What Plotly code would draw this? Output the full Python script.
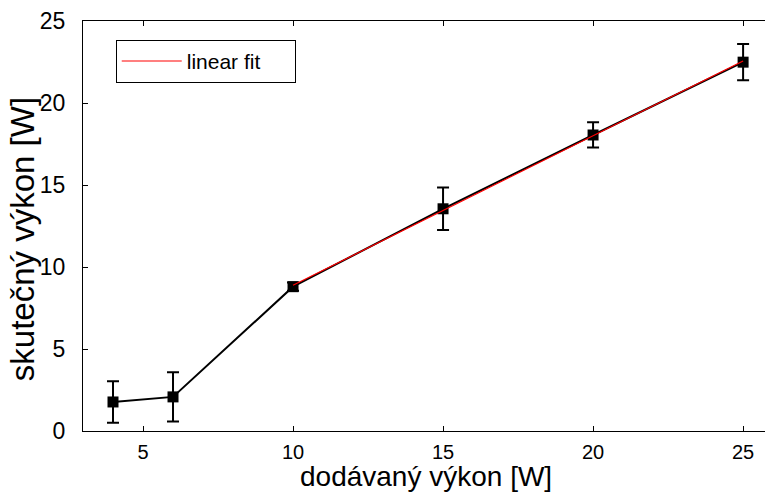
import numpy as np
import plotly.graph_objects as go

# measured points: supplied power vs. actual power, with uncertainties
supplied_w = [4, 6, 10, 15, 20, 25]
actual_w = [1.77, 2.08, 8.8, 13.55, 18.05, 22.49]
actual_err = [1.27, 1.5, 0.25, 1.29, 0.77, 1.11]

# linear fit over the linear region (supplied power >= 10 W)
fit_x = [x for x in supplied_w if x >= 10]
fit_y = [y for x, y in zip(supplied_w, actual_w) if x >= 10]
slope, intercept = np.polyfit(fit_x, fit_y, 1)
fit_line_x = [min(fit_x), max(fit_x)]
fit_line_y = [slope * x + intercept for x in fit_line_x]

font_family = "Liberation Sans, Arial, sans-serif"

# plot-area geometry in pixels, used to place the axis titles
plot_left, plot_width = 83, 682
plot_bottom, plot_height = 430.7, 409.7

fig = go.Figure()
fig.add_trace(go.Scatter(
    x=supplied_w, y=actual_w,
    mode="lines+markers",
    line=dict(color="black", width=2),
    marker=dict(symbol="square", size=11, color="black"),
    error_y=dict(type="data", array=actual_err, visible=True,
                 color="black", thickness=2, width=6),
    showlegend=False,
))
fig.add_trace(go.Scatter(
    x=fit_line_x, y=fit_line_y,
    mode="lines",
    line=dict(color="red", width=1.2),
    name="linear fit\u00a0\u00a0\u00a0\u00a0\u00a0",
))

fig.update_layout(
    width=765, height=492,
    margin=dict(l=83, r=0, t=21, b=61),
    paper_bgcolor="white", plot_bgcolor="white",
    font=dict(family=font_family, color="black"),
    showlegend=True,
    legend=dict(
        x=0.048, y=0.954, xanchor="left", yanchor="top",
        bordercolor="black", borderwidth=1, bgcolor="white",
        font=dict(size=21, family=font_family),
        itemwidth=60,
    ),
    xaxis=dict(
        range=[3, 25.73],
        tickvals=[5, 10, 15, 20, 25],
        ticks="inside", ticklen=5, tickcolor="black",
        showline=True, linecolor="black", linewidth=1, mirror="ticks",
        showgrid=False, zeroline=False,
        tickfont=dict(size=20),
        ticklabelstandoff=3,
    ),
    yaxis=dict(
        range=[0, 25],
        tickvals=[0, 5, 10, 15, 20, 25],
        ticks="inside", ticklen=5, tickcolor="black",
        showline=True, linecolor="black", linewidth=1,
        showgrid=False, zeroline=False,
        tickfont=dict(size=23),
        ticklabelstandoff=12,
    ),
    annotations=[
        dict(
            text="dodávaný výkon [W]",
            xref="paper", yref="paper",
            x=(426 - plot_left) / plot_width,
            y=(plot_bottom - 493) / plot_height,
            xanchor="center", yanchor="bottom",
            showarrow=False, borderpad=0,
            font=dict(size=28, family=font_family),
        ),
        dict(
            text="skutečný výkon [W]",
            xref="paper", yref="paper",
            x=(22 - plot_left) / plot_width,
            y=(plot_bottom - 239) / plot_height,
            xanchor="center", yanchor="middle",
            textangle=-90, showarrow=False,
            font=dict(size=33, family=font_family),
        ),
    ],
)

fig.write_html("out.html")
